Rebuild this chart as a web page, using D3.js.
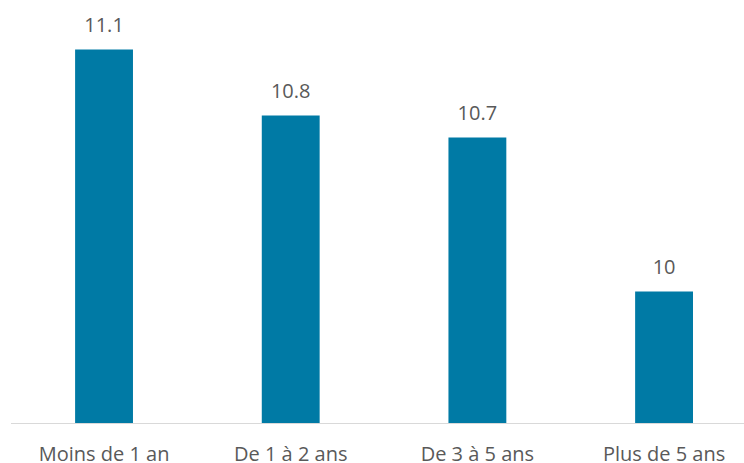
<!DOCTYPE html>
<html>
<head>
<meta charset="utf-8">
<script src="https://cdn.jsdelivr.net/npm/d3@7/dist/d3.min.js"></script>
<style>
  html, body { margin: 0; padding: 0; background: #fff; }
  svg { display: block; }
  text { font-family: "Open Sans", Lato, sans-serif; fill: #595959; }
</style>
</head>
<body>
<svg id="chart" width="744" height="463"></svg>
<script>
// Durée (catégories) et valeurs
const categories = ["Moins de 1 an", "De 1 à 2 ans", "De 3 à 5 ans", "Plus de 5 ans"];
const values = [11.1, 10.8, 10.7, 10];
const yDomain = [9.4, 11.2];

const svg = d3.select("#chart");
const W = 744;

const x = d3.scaleBand()
  .domain(categories)
  .range([10.7, 757.4])
  .paddingInner(0.69)
  .paddingOuter(0.345);

const y = d3.scaleLinear().domain(yDomain).range([423.5, 27.5]);

const data = categories.map((c, i) => ({ c, v: values[i] }));

// Barres
svg.append("g").selectAll("rect").data(data).join("rect")
  .attr("x", d => x(d.c))
  .attr("y", d => y(d.v))
  .attr("width", x.bandwidth())
  .attr("height", d => y(yDomain[0]) - y(d.v))
  .attr("fill", "#007AA5");

// Ligne de base
svg.append("line")
  .attr("x1", 11).attr("x2", W)
  .attr("y1", 423.5).attr("y2", 423.5)
  .attr("stroke", "#d9d9d9").attr("stroke-width", 1.2);

// Étiquettes de valeur
svg.append("g").selectAll("text").data(data).join("text")
  .attr("x", d => x(d.c) + x.bandwidth() / 2)
  .attr("y", d => y(d.v) - 18)
  .attr("text-anchor", "middle")
  .attr("font-size", 20)
  .text(d => String(d.v));

// Axe des catégories
const xAxis = d3.axisBottom(x).tickSize(0).tickPadding(0);
const gx = svg.append("g").attr("transform", "translate(0,423.5)").call(xAxis);
gx.select(".domain").remove();
gx.selectAll("text")
  .attr("y", 37.5)
  .attr("dy", 0)
  .attr("font-size", 20)
  .style("font-family", "'Open Sans', Lato, sans-serif")
  .attr("fill", "#595959");
</script>
</body>
</html>
